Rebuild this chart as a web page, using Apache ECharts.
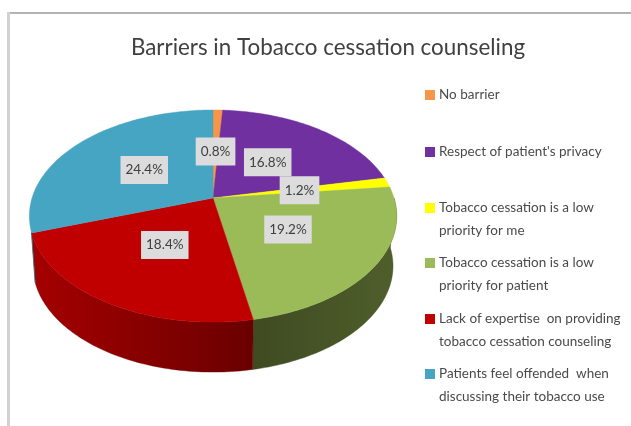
<!DOCTYPE html>
<html>
<head>
<meta charset="utf-8">
<style>html,body{margin:0;padding:0;background:#fff}#chart{width:631px;height:426px}</style>
<script src="https://cdn.jsdelivr.net/npm/echarts@6/dist/echarts.min.js"></script>
</head>
<body>
<div id="chart"></div>
<script>
// Survey responses: barriers to tobacco cessation counseling (percent of respondents)
const categories = [
  'No barrier',
  "Respect of patient's privacy",
  'Tobacco cessation is a low priority for me',
  'Tobacco cessation is a low priority for patient',
  'Lack of expertise on providing tobacco cessation counseling',
  'Patients feel offended when discussing their tobacco use'
];
const legendLines = [
  ['No barrier'],
  ["Respect of patient's privacy"],
  ['Tobacco cessation is a low', 'priority for me'],
  ['Tobacco cessation is a low', 'priority for patient'],
  ['Lack of expertise  on providing', 'tobacco cessation counseling'],
  ['Patients feel offended  when', 'discussing their tobacco use']
];
const values = [0.8, 16.8, 1.2, 19.2, 18.4, 24.4];
const topColors = ['#F79646', '#7030A0', '#FFFF00', '#9BBB59', '#C00000', '#45A5C3'];
const sideColors = [
  ['#A8642E', '#A8642E'],
  ['#4A2069', '#4A2069'],
  ['#A8A800', '#A8A800'],
  ['#4F5F2B', '#3F4A22'],
  ['#A50000', '#6A0000'],
  ['#2C6E82', '#2C6E82']
];
const legendRowY = [95, 152, 208, 263, 319, 374];

// Projection of the tilted disc: a perspective homography of the unit circle
const disc = { cx: 213, cy: 198, rx: 181, ry: 103, k: 0.17 };
const rim = { dy: 50, sx: 0.98 };
const fontFamily = 'Lato, "Open Sans", sans-serif';
const total = values.reduce((a, b) => a + b, 0);

function project(theta, f, lower) {
  const u = Math.sin(theta) * f;
  const v = Math.cos(theta) * f;
  const w = 1 + disc.k * v;
  const sx = lower ? rim.sx : 1;
  return [
    disc.cx + sx * disc.rx * u / w,
    disc.cy + (lower ? rim.dy : 0) - disc.ry * v / w
  ];
}

function arc(a0, a1, lower) {
  const steps = Math.max(2, Math.ceil((a1 - a0) / 0.02));
  const pts = [];
  for (let i = 0; i <= steps; i++) {
    pts.push(project(a0 + (a1 - a0) * i / steps, 1, lower));
  }
  return pts;
}

function renderSlice(params, api) {
  const i = params.dataIndex;
  const before = values.slice(0, i).reduce((a, b) => a + b, 0);
  const a0 = before / total * 2 * Math.PI;
  const a1 = (before + values[i]) / total * 2 * Math.PI;
  const children = [];

  // Wall of the drum: only the part of the rim facing the viewer
  const s0 = Math.max(a0, Math.PI * 0.5);
  const s1 = Math.min(a1, Math.PI * 1.4);
  if (s1 > s0) {
    const upper = arc(s0, s1, false);
    const lowerArc = arc(s0, s1, true).reverse();
    const sidePts = upper.concat(lowerArc);
    const xs = sidePts.map(p => p[0]);
    const ltr = i === 3;
    const fill = {
      type: 'linear', global: true,
      x: ltr ? Math.max.apply(null, xs) : Math.min.apply(null, xs), y: 0,
      x2: ltr ? Math.min.apply(null, xs) : Math.max.apply(null, xs), y2: 0,
      colorStops: [
        { offset: 0, color: sideColors[i][0] },
        { offset: 1, color: sideColors[i][1] }
      ]
    };
    children.push({
      type: 'polygon', z2: 1,
      shape: { points: sidePts },
      style: { fill: fill, stroke: sideColors[i][1], lineWidth: 0.4 }
    });
  }

  // Top face
  children.push({
    type: 'polygon', z2: 2,
    shape: { points: [project(0, 0, false)].concat(arc(a0, a1, false)) },
    style: { fill: topColors[i], stroke: topColors[i], lineWidth: 0.4 }
  });

  // Value label, placed halfway along the slice's middle radius
  const mid = project((a0 + a1) / 2, 0.49, false);
  children.push({
    type: 'text', z2: 3,
    x: mid[0], y: mid[1],
    style: {
      text: api.value(0).toFixed(1) + '%',
      align: 'center', verticalAlign: 'middle',
      fill: '#404040', font: '13.5px ' + fontFamily,
      backgroundColor: '#DCDCDC', padding: [7, 5, 7, 5]
    }
  });
  return { type: 'group', children: children };
}

// Legend rows: swatch lines up with the first text line
const legendGraphics = [];
legendLines.forEach((lines, i) => {
  legendGraphics.push({
    type: 'rect', shape: { x: 425, y: legendRowY[i] - 5, width: 10, height: 10 },
    style: { fill: topColors[i] }
  });
  lines.forEach((line, j) => {
    legendGraphics.push({
      type: 'text', x: 439, y: legendRowY[i] + j * 22.5,
      style: {
        text: line, fill: '#4A4A4A', font: '13.5px ' + fontFamily,
        align: 'left', verticalAlign: 'middle'
      }
    });
  });
});

const chart = echarts.init(document.getElementById('chart'), null, { renderer: 'canvas' });
chart.setOption({
  animation: false,
  backgroundColor: '#ffffff',
  title: {
    text: 'Barriers in Tobacco cessation counseling',
    left: 323, top: 32, textAlign: 'center',
    textStyle: { fontFamily: fontFamily, fontWeight: 'normal', fontSize: 22.4, color: '#404040' }
  },
  graphic: [
    { type: 'rect', shape: { x: 7, y: 12, width: 624, height: 2 }, style: { fill: '#B4B4B4' } },
    { type: 'rect', shape: { x: 7, y: 12, width: 3, height: 414 }, style: { fill: '#D2D2D2' } }
  ].concat(legendGraphics),
  series: [{
    type: 'custom',
    coordinateSystem: 'none',
    renderItem: renderSlice,
    data: values.map((v, i) => ({ name: categories[i], value: [v] }))
  }]
});
</script>
</body>
</html>
